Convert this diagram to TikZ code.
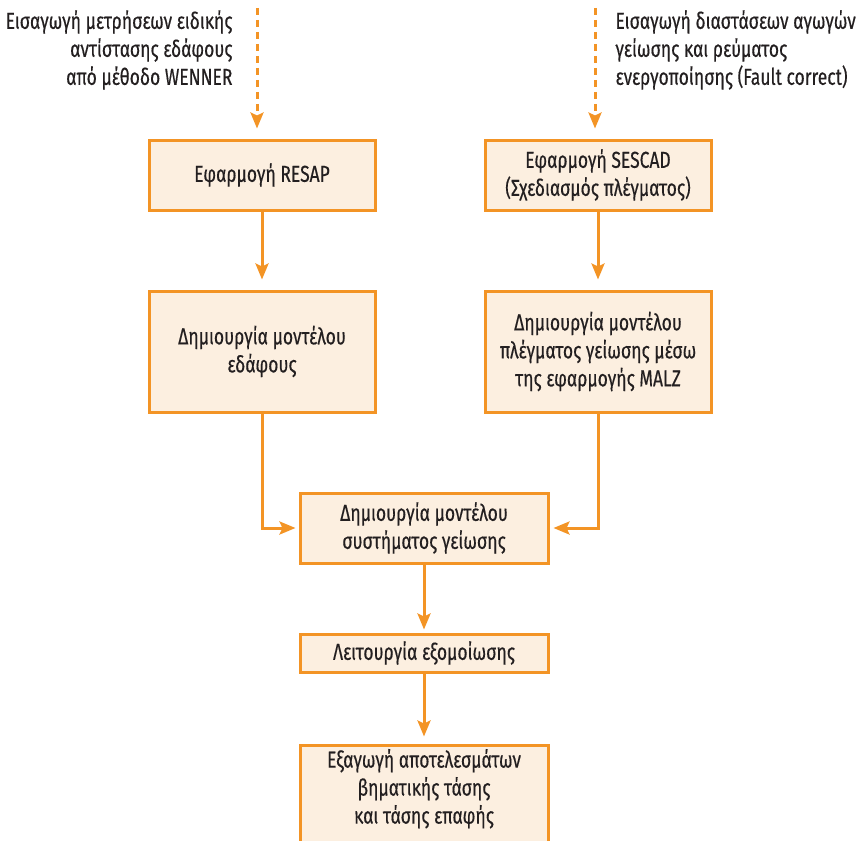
\documentclass[tikz,border=0pt]{standalone}
\usepackage{fontspec}
\setmainfont{Fira Sans}[FakeStretch=0.76,FakeBold=0.4]
\usepackage{tikz}
\usetikzlibrary{arrows.meta,positioning}

\definecolor{flowline}{RGB}{243,148,37}
\definecolor{flowfill}{RGB}{252,239,224}
\definecolor{flowtext}{RGB}{35,31,32}

\begin{document}
\begin{tikzpicture}[x=1pt,y=-1pt,>={Stealth[length=16pt,width=13pt,inset=3pt]},
    every node/.style={font=\fontsize{23}{28}\selectfont,text=flowtext},
    box/.style={draw=flowline,fill=flowfill,line width=3pt,align=center,
      inner sep=0pt,minimum width=226pt},
    flow/.style={->,draw=flowline,line width=3pt},
    feed/.style={flow,dash pattern=on 7pt off 5pt}]

  \path[use as bounding box,clip] (0,0) rectangle (864,840);

  % Boxes
  \node[box,minimum height=70pt] (resap) at (262,175) {Εφαρμογή RESAP};
  \node[box,minimum height=121pt] (soil) [below=78pt of resap]
    {Δημιουργία μοντέλου\\εδάφους};
  \node[box,minimum height=70pt] (sescad) [right=107pt of resap]
    {Εφαρμογή SESCAD\\(Σχεδιασμός πλέγματος)};
  \node[box,minimum height=121pt] (grid) [below=78pt of sescad]
    {Δημιουργία μοντέλου\\πλέγματος γείωσης μέσω\\της εφαρμογής MALZ};
  \node[box,minimum width=248pt,minimum height=70pt] (system) at (424,528)
    {Δημιουργία μοντέλου\\συστήματος γείωσης};
  \node[box,minimum width=248pt,minimum height=38pt] (sim) [below=68pt of system]
    {Λειτουργία εξομοίωσης};
  \node[box,minimum width=248pt,text depth=48pt,inner ysep=4pt] (result)
    [below=70pt of sim]
    {Εξαγωγή αποτελεσμάτων\\βηματικής τάσης\\και τάσης επαφής};

  % Input data
  \node[anchor=east,align=right] (wenner) at (236,50)
    {Εισαγωγή μετρήσεων ειδικής\\αντίστασης εδάφους\\από μέθοδο WENNER};
  \node[anchor=west,align=left] (fault) at (612,50)
    {Εισαγωγή διαστάσεων αγωγών\\γείωσης και ρεύματος\\ενεργοποίησης (Fault correct)};
  \coordinate (wenner in) at (257,8);
  \coordinate (fault in) at (595,8);

  \draw[feed,shorten >=10pt] (wenner in) -- (wenner in |- resap.north);
  \draw[feed,shorten >=10pt] (fault in) -- (fault in |- sescad.north);

  % Flow
  \draw[flow,shorten >=10pt] (resap) -- (soil);
  \draw[flow,shorten >=10pt] (sescad) -- (grid);
  \draw[flow,shorten >=3pt] (soil.south) |- (system.west);
  \draw[flow,shorten >=4pt] (grid.south) |- (system.east);
  \draw[flow,shorten >=3pt] (system) -- (sim);
  \draw[flow,shorten >=7pt] (sim) -- (result);

\end{tikzpicture}
\end{document}
